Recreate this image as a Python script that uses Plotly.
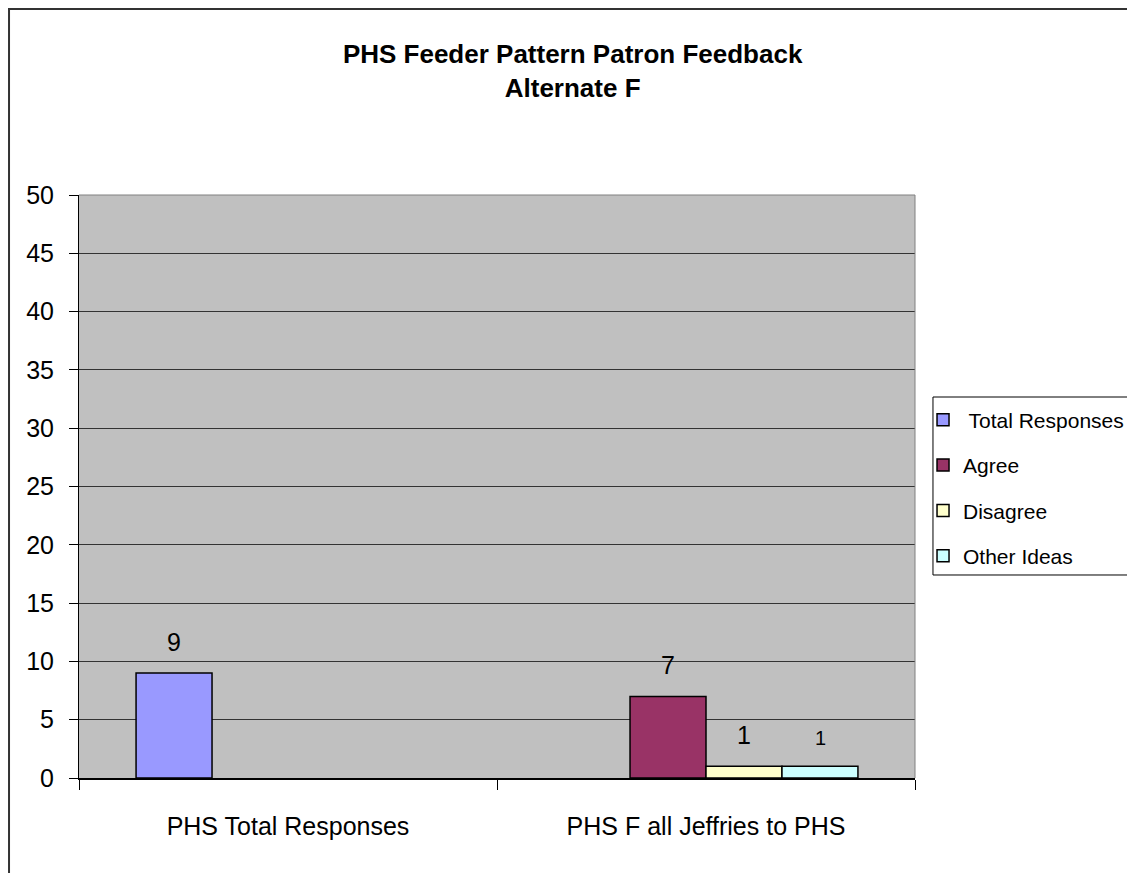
import plotly.graph_objects as go

categories = ["PHS Total Responses", "PHS F all Jeffries to PHS"]
series_names = [" Total Responses", "Agree", "Disagree", "Other Ideas"]
total_responses = [9, None]
agree = [None, 7]
disagree = [None, 1]
other_ideas = [None, 1]
series_values = [total_responses, agree, disagree, other_ideas]
series_colors = ["#9999FF", "#993366", "#FFFFCC", "#CCFFFF"]
label_sizes = [25, 25, 25, 20]

SANS = "Liberation Sans, Arial, sans-serif"

fig = go.Figure()
for i, (name, vals, color) in enumerate(zip(series_names, series_values, series_colors)):
    fig.add_trace(go.Bar(x=categories, y=vals, name=name, legendgroup=name,
                         marker=dict(color=color, line=dict(color="black", width=1.5))))

# value labels above each bar
bar_px = 76
for i, vals in enumerate(series_values):
    for cat, v in zip(categories, vals):
        if v is None:
            continue
        fig.add_annotation(x=cat, y=v, text=str(v), showarrow=False,
                           xshift=(i - 1.5) * bar_px, yshift=15, yanchor="bottom",
                           font=dict(family=SANS, size=label_sizes[i], color="black"))

# page body has an 8px margin, so the figure is 8px smaller than the window
fig.update_layout(
    width=1127, height=865,
    paper_bgcolor="white", plot_bgcolor="#C0C0C0",
    margin=dict(l=71, r=220, t=187, b=95, autoexpand=False),
    barmode="group", bargap=0.273, bargroupgap=0,
    title=dict(text="PHS Feeder Pattern Patron Feedback<br>Alternate F",
               font=dict(family=SANS, size=26, color="black", weight="bold"),
               x=0.501, xanchor="center", xref="container",
               y=1 - 55 / 865, yanchor="top", yref="container"),
    legend=dict(x=1.0096, y=0.649, xanchor="left", yanchor="top",
                bgcolor="rgba(0,0,0,0)", borderwidth=0,
                font=dict(family=SANS, size=21, color="black"),
                tracegroupgap=15, itemwidth=30),
    showlegend=True,
    font=dict(family=SANS, color="black"),
)
fig.update_yaxes(range=[0, 50], dtick=5, showgrid=True, gridcolor="#333333", gridwidth=1,
                 showline=True, linecolor="black", linewidth=1,
                 ticks="outside", ticklen=9, tickcolor="black",
                 ticklabelstandoff=10, tickfont=dict(family=SANS, size=25, color="black"),
                 zeroline=False)
fig.update_xaxes(showline=True, linecolor="black", linewidth=2,
                 ticks="outside", ticklen=10, tickcolor="black", tickson="boundaries",
                 tickfont=dict(family=SANS, size=25, color="black"), ticklabelstandoff=25)

# gray edge on top/right of plot area
fig.add_shape(type="line", xref="paper", yref="paper", x0=0, x1=1, y0=1, y1=1,
              line=dict(color="#808080", width=1))
fig.add_shape(type="line", xref="paper", yref="paper", x0=1, x1=1, y0=0, y1=1,
              line=dict(color="#808080", width=1))
# legend box
fig.add_shape(type="rect", xref="paper", yref="paper", x0=1.0215, x1=1.2608, y0=0.3482, y1=0.6535,
              line=dict(color="black", width=1), fillcolor="rgba(0,0,0,0)")
# outer chart frame (only top and left edges show)
fig.add_shape(type="rect", xref="paper", yref="paper", x0=-0.0837, x1=1.3, y0=-0.2, y1=1.319,
              line=dict(color="#333333", width=2), fillcolor="rgba(0,0,0,0)")

fig.write_html("out.html")
